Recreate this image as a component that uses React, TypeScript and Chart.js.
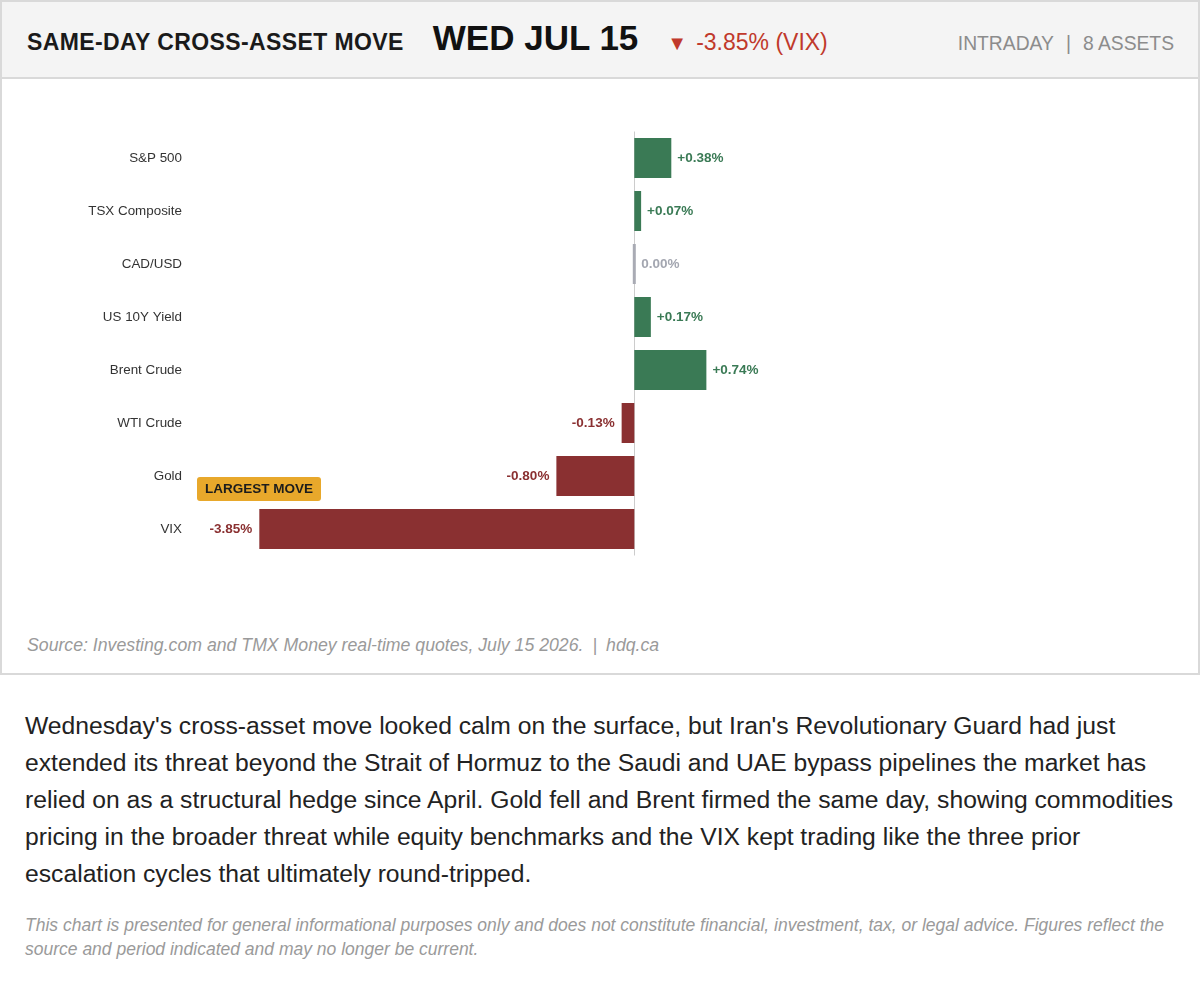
import { useEffect, useRef } from "react";
import { Chart, registerables } from "chart.js";

Chart.register(...registerables);

const FONT = '"Liberation Sans", Arial, Helvetica, sans-serif';

// asset names, top to bottom
const assets = [
  "S&P 500",
  "TSX Composite",
  "CAD/USD",
  "US 10Y Yield",
  "Brent Crude",
  "WTI Crude",
  "Gold",
  "VIX",
];

// same-day % change
const changes = [0.38, 0.07, 0.0, 0.17, 0.74, -0.13, -0.8, -3.85];

const xMin = -4.5;
const xMax = 5.5;
const largestMoveIndex = 7;

const GREEN = "#3a7a55";
const RED = "#8a3031";
const GRAY = "#a9abb4";

function colorFor(v: number) {
  if (v > 0) return GREEN;
  if (v < 0) return RED;
  return GRAY;
}

function fmt(v: number) {
  if (v > 0) return "+" + v.toFixed(2) + "%";
  return v.toFixed(2) + "%";
}

// zero line, value labels and the "largest move" badge
const overlayPlugin = {
  id: "overlay",
  beforeDatasetsDraw(chart: any) {
    const { ctx, chartArea, scales } = chart;
    const x0 = scales.x.getPixelForValue(0);
    ctx.save();
    ctx.strokeStyle = "#cccccc";
    ctx.lineWidth = 1;
    ctx.beginPath();
    ctx.moveTo(Math.round(x0) + 0.5, chartArea.top);
    ctx.lineTo(Math.round(x0) + 0.5, chartArea.bottom);
    ctx.stroke();
    ctx.restore();
  },
  afterDatasetsDraw(chart: any) {
    const { ctx, chartArea, scales } = chart;
    const meta = chart.getDatasetMeta(0);
    const x0 = scales.x.getPixelForValue(0);
    ctx.save();
    ctx.font = `bold 13.5px ${FONT}`;
    ctx.textBaseline = "middle";
    meta.data.forEach((bar: any, i: number) => {
      const v = changes[i];
      const label = fmt(v);
      ctx.fillStyle = v === 0 ? "#a3a6b0" : colorFor(v);
      if (v < 0) {
        ctx.textAlign = "right";
        ctx.fillText(label, bar.x - 7, bar.y);
      } else if (v === 0) {
        ctx.textAlign = "left";
        ctx.fillText(label, x0 + 7, bar.y);
      } else {
        ctx.textAlign = "left";
        ctx.fillText(label, bar.x + 6, bar.y);
      }
    });

    // badge
    const big = meta.data[largestMoveIndex];
    const top = big.y - big.height / 2;
    const text = "LARGEST MOVE";
    const w = ctx.measureText(text).width + 16;
    const bx = chartArea.left + 1;
    const by = top - 32;
    ctx.fillStyle = "#e8a82b";
    ctx.beginPath();
    ctx.roundRect(bx, by, w, 24, 3);
    ctx.fill();
    ctx.fillStyle = "#1c1c1c";
    ctx.textAlign = "left";
    ctx.fillText(text, bx + 8, by + 12.5);
    ctx.restore();
  },
};

function MoveChart() {
  const ref = useRef<HTMLCanvasElement | null>(null);
  useEffect(() => {
    if (!ref.current) return;
    const ctx = ref.current.getContext("2d");
    if (!ctx) return;

    const chart = new Chart(ctx, {
      type: "bar",
      data: {
        labels: assets,
        datasets: [
          {
            data: changes,
            backgroundColor: changes.map(colorFor),
            borderWidth: 0,
            barPercentage: 0.755,
            categoryPercentage: 1,
            minBarLength: 3,
          },
        ],
      },
      options: {
        indexAxis: "y",
        animation: false,
        responsive: true,
        maintainAspectRatio: false,
        layout: { padding: { top: 52.5, bottom: 53.5, left: 0, right: 28 } },
        plugins: {
          legend: { display: false },
          tooltip: { enabled: false },
        },
        scales: {
          x: {
            display: false,
            min: xMin,
            max: xMax,
          },
          y: {
            grid: { display: false, drawTicks: false },
            border: { display: false },
            ticks: {
              color: "#333",
              padding: 14,
              font: { family: FONT, size: 13.4 },
            },
            afterFit(scale: any) {
              scale.width = 194;
            },
          },
        },
      },
      plugins: [overlayPlugin],
    });
    return () => chart.destroy();
  }, []);
  return <canvas ref={ref} />;
}

export default function App() {
  useEffect(() => {
    document.body.style.margin = "0";
  }, []);

  return (
    <div style={{ fontFamily: FONT, width: 1200 }}>
      <div
        style={{
          border: "2px solid #d9d9d9",
          boxSizing: "border-box",
          width: 1200,
        }}
      >
        <div
          style={{
            height: 75,
            background: "#f4f4f4",
            borderBottom: "2px solid #d9d9d9",
            display: "flex",
            alignItems: "baseline",
            padding: "0 24px 0 25px",
            lineHeight: "71px",
            whiteSpace: "nowrap",
          }}
        >
          <span
            style={{
              fontWeight: 700,
              fontSize: 23,
              letterSpacing: 0.4,
              color: "#1a1a1a",
            }}
          >
            SAME-DAY CROSS-ASSET MOVE
          </span>
          <span
            style={{
              fontWeight: 700,
              fontSize: 35,
              color: "#111",
              marginLeft: 29,
            }}
          >
            WED JUL 15
          </span>
          <span style={{ fontSize: 23, color: "#c0392b", marginLeft: 29 }}>
            <span style={{ fontSize: 20, marginRight: 9 }}>▼</span>
            -3.85% (VIX)
          </span>
          <span style={{ flex: 1 }} />
          <span style={{ fontSize: 19.3, color: "#8c8c8c" }}>
            INTRADAY<span style={{ margin: "0 12px" }}>|</span>8 ASSETS
          </span>
        </div>
        <div style={{ position: "relative", height: 530 }}>
          <MoveChart />
        </div>
        <div
          style={{
            marginTop: 26,
            paddingBottom: 18,
            paddingLeft: 25,
            fontSize: 17.7,
            lineHeight: "20px",
            fontStyle: "italic",
            color: "#9a9a9a",
          }}
        >
          Source: Investing.com and TMX Money real-time quotes, July 15 2026.
          <span style={{ margin: "0 9px" }}>|</span>hdq.ca
        </div>
      </div>
      <div style={{ padding: "0 25px" }}>
        <p
          style={{
            margin: "32px 0 0",
            fontSize: 24.7,
            lineHeight: "37px",
            color: "#222",
          }}
        >
          Wednesday's cross-asset move looked calm on the surface, but Iran's
          Revolutionary Guard had just extended its threat beyond the Strait of
          Hormuz to the Saudi and UAE bypass pipelines the market has relied on
          as a structural hedge since April. Gold fell and Brent firmed the same
          day, showing commodities pricing in the broader threat while equity
          benchmarks and the VIX kept trading like the three prior escalation
          cycles that ultimately round-tripped.
        </p>
        <p
          style={{
            margin: "21px 0 0",
            fontSize: 17.5,
            lineHeight: "24px",
            fontStyle: "italic",
            color: "#9a9a9a",
          }}
        >
          This chart is presented for general informational purposes only and
          does not constitute financial, investment, tax, or legal advice.
          Figures reflect the source and period indicated and may no longer be
          current.
        </p>
      </div>
    </div>
  );
}
